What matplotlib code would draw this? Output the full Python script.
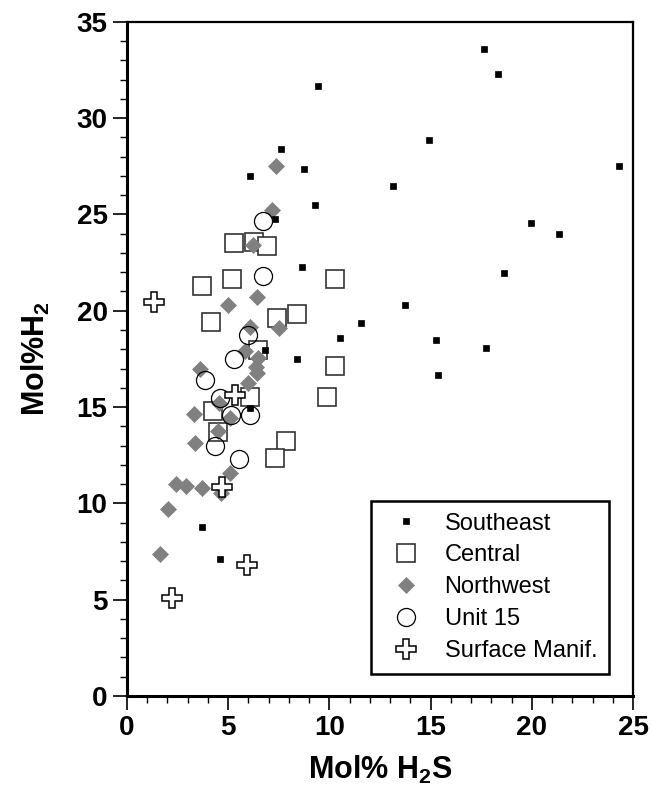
import matplotlib
matplotlib.use("Agg")
import matplotlib.pyplot as plt
from matplotlib.ticker import MultipleLocator

plt.rcParams['font.family'] = ['Liberation Sans', 'DejaVu Sans']
plt.rcParams['mathtext.fontset'] = 'custom'
plt.rcParams['mathtext.rm'] = 'Liberation Sans:bold'
plt.rcParams['mathtext.bf'] = 'Liberation Sans:bold'

# data (H2S, H2 in mol%)
se_x = [17.64, 18.35, 9.44, 14.94, 7.63, 8.75, 6.06, 13.14, 9.27, 7.31, 19.94, 21.34,
        8.66, 18.64, 13.74, 11.55, 10.54, 15.25, 17.75, 15.35, 8.38, 6.82, 6.10, 3.72,
        4.59, 24.30]
se_y = [33.56, 32.28, 31.66, 28.85, 28.39, 27.35, 26.99, 26.47, 25.48, 24.77, 24.55, 23.98,
        22.26, 21.95, 20.29, 19.36, 18.58, 18.47, 18.06, 16.66, 17.49, 17.96, 14.95, 8.79,
        7.11, 27.50]

cen_x = [5.30, 6.29, 6.90, 10.30, 5.17, 3.69, 4.13, 7.43, 8.38, 6.45, 10.30, 9.86,
         6.10, 4.27, 4.48, 7.84, 7.31]
cen_y = [23.49, 23.58, 23.36, 21.67, 21.67, 21.29, 19.39, 19.60, 19.81, 17.98, 17.13, 15.52,
         15.52, 14.80, 13.68, 13.25, 12.38]

nw_x = [7.35, 7.15, 6.21, 6.41, 4.97, 7.51, 6.08, 5.83, 6.49, 6.35, 6.41, 3.60, 6.00,
        4.53, 3.29, 5.11, 4.48, 3.36, 5.09, 2.41, 2.91, 3.69, 4.64, 2.04, 1.63]
nw_y = [27.50, 25.23, 23.40, 20.71, 20.29, 19.08, 19.15, 17.92, 17.56, 17.10, 16.78, 17.00, 16.25,
        15.20, 14.62, 14.41, 13.75, 13.11, 11.56, 10.98, 10.90, 10.81, 10.55, 9.70, 7.37]

u15_x = [6.74, 6.70, 6.00, 5.29, 3.85, 4.59, 5.12, 6.10, 4.35, 5.53]
u15_y = [24.67, 21.78, 18.73, 17.48, 16.38, 15.45, 14.60, 14.58, 12.99, 12.28]

sm_x = [1.34, 5.34, 4.68, 5.91, 2.21]
sm_y = [20.47, 15.62, 10.86, 6.80, 5.07]

fig = plt.figure(figsize=(6.52, 7.99), dpi=100)
ax = fig.add_axes([0.1948, 0.1289, 0.7761, 0.8439])

h_cen, = ax.plot(cen_x, cen_y, 's', ms=13, mfc='white', mec='#333333', mew=1.2,
                 ls='none', label='Central', zorder=2)
h_nw, = ax.plot(nw_x, nw_y, 'D', ms=8.5, mfc='#808080', mec='#808080', mew=0.5,
                ls='none', label='Northwest', zorder=3)
h_u15, = ax.plot(u15_x, u15_y, 'o', ms=13, mfc='none', mec='black', mew=0.9,
                 ls='none', label='Unit 15', zorder=4)
h_sm, = ax.plot(sm_x, sm_y, 'P', ms=14, mfc='white', mec='black', mew=1.1,
                ls='none', label='Surface Manif.', zorder=5)
h_se, = ax.plot(se_x, se_y, 's', ms=4, mfc='black', mec='black', mew=0.5,
                ls='none', label='Southeast', zorder=6)

ax.set_xlim(0, 25)
ax.set_ylim(0, 35)
ax.xaxis.set_major_locator(MultipleLocator(5))
ax.xaxis.set_minor_locator(MultipleLocator(1))
ax.yaxis.set_major_locator(MultipleLocator(5))
ax.yaxis.set_minor_locator(MultipleLocator(1))
ax.tick_params(which='major', direction='out', length=10, width=1.2, labelsize=20, pad=4)
ax.tick_params(which='minor', direction='out', length=5, width=1)
for lab in ax.get_xticklabels() + ax.get_yticklabels():
    lab.set_fontweight('bold')

ax.spines['left'].set_linewidth(2.2)
ax.spines['bottom'].set_linewidth(2.2)
ax.spines['top'].set_linewidth(1.6)
ax.spines['right'].set_linewidth(1.6)

ax.set_xlabel('Mol% H$_2$S', fontsize=22, fontweight='bold', labelpad=9)
ax.set_ylabel('Mol%H$_2$', fontsize=22, fontweight='bold', labelpad=18)

leg = ax.legend(handles=[h_se, h_cen, h_nw, h_u15, h_sm], loc='lower right',
                bbox_to_anchor=(0.9526, 0.0326), borderaxespad=0, fontsize=17,
                frameon=True, fancybox=False, edgecolor='black', framealpha=1,
                handletextpad=0.7, labelspacing=0.42, borderpad=0.5, handlelength=1.9)
leg.get_frame().set_linewidth(1.8)

fig.savefig('out.png', dpi=100)
